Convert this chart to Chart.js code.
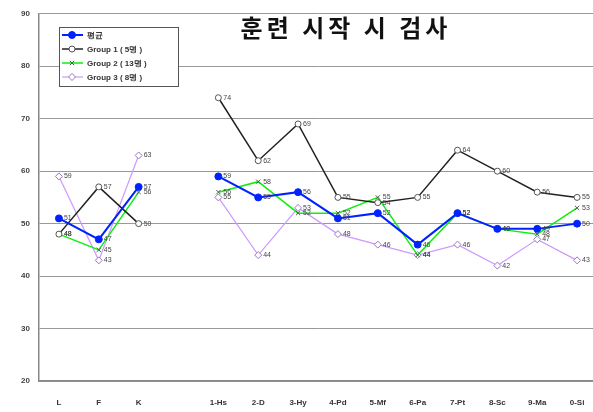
<!DOCTYPE html>
<html>
<head>
<meta charset="utf-8">
<script src="https://cdn.jsdelivr.net/npm/chart.js@4"></script>
<style>
  html, body { margin: 0; padding: 0; background: #fff; }
  #wrap { width: 593px; height: 412px; overflow: hidden; position: relative; }
  #box { width: 602px; height: 412px; position: absolute; left: 0; top: 0; }
</style>
</head>
<body>
<div id="wrap"><div id="box"><canvas id="chart"></canvas></div></div>
<script>
'use strict';

var TITLE      = '훈련 시작 시 검사';
var CATEGORIES = ['L', 'F', 'K', '', '1-Hs', '2-D', '3-Hy', '4-Pd', '5-Mf', '6-Pa', '7-Pt', '8-Sc', '9-Ma', '0-Si'];
var AVG        = [51, 47, 57, null, 59, 55, 56, 51, 52, 46, 52, 49, 49, 50];
var GROUP1     = [48, 57, 50, null, 74, 62, 69, 55, 54, 55, 64, 60, 56, 55];
var GROUP2     = [48, 45, 56, null, 56, 58, 52, 52, 55, 44, 52, 49, 48, 53];
var GROUP3     = [59, 43, 63, null, 55, 44, 53, 48, 46, 44, 46, 42, 47, 43];
var SERIES_NAMES = ['평균', 'Group 1 ( 5명 )', 'Group 2 ( 13명 )', 'Group 3 ( 8명 )'];

var FONT = '"Liberation Sans", Arial, sans-serif';

// value labels next to each point
var valueLabels = {
  id: 'valueLabels',
  afterDatasetsDraw: function(chart) {
    var ctx = chart.ctx;
    ctx.save();
    ctx.font = '7px ' + FONT;
    ctx.fillStyle = '#444';
    ctx.textBaseline = 'middle';
    chart.data.datasets.forEach(function(ds, i) {
      var meta = chart.getDatasetMeta(i);
      meta.data.forEach(function(pt, j) {
        if (ds.data[j] == null) return;
        ctx.fillText(String(ds.data[j]), pt.x + 5, pt.y);
      });
    });
    ctx.restore();
  }
};

// title and legend box drawn inside the plot
var overlay = {
  id: 'overlay',
  afterDraw: function(chart) {
    var ctx = chart.ctx;
    ctx.save();
    ctx.font = 'bold 24px "Noto Sans CJK KR", sans-serif';
    ctx.letterSpacing = '4px';
    ctx.fillStyle = '#111';
    ctx.textAlign = 'center';
    ctx.textBaseline = 'middle';
    ctx.fillText(TITLE, 346, 28);
    ctx.letterSpacing = '0px';

    var bx = 59, by = 27, bw = 119, bh = 59;
    ctx.fillStyle = '#fff';
    ctx.fillRect(bx, by, bw, bh);
    ctx.strokeStyle = '#555';
    ctx.lineWidth = 1;
    ctx.strokeRect(bx + 0.5, by + 0.5, bw, bh);

    ctx.textAlign = 'left';
    ctx.font = 'bold 8px ' + FONT;
    chart.data.datasets.forEach(function(ds, i) {
      var y = by + 8 + i * 14;
      ctx.strokeStyle = ds.borderColor;
      ctx.lineWidth = ds.borderWidth;
      ctx.beginPath();
      ctx.moveTo(bx + 3, y);
      ctx.lineTo(bx + 24, y);
      ctx.stroke();
      ctx.fillStyle = ds.pointBackgroundColor;
      ctx.strokeStyle = ds.pointBorderColor;
      ctx.lineWidth = 1;
      Chart.helpers.drawPoint(ctx, { pointStyle: ds.pointStyle, radius: ds.pointRadius, borderWidth: 1 }, bx + 13, y);
      ctx.fillStyle = '#333';
      ctx.fillText(ds.label, bx + 28, y + 1);
    });
    ctx.restore();
  }
};

var ctx = document.getElementById('chart').getContext('2d');

new Chart(ctx, {
  type: 'line',
  data: {
    labels: CATEGORIES,
    datasets: [
      {
        label: SERIES_NAMES[0], data: AVG,
        borderColor: '#0022ff', borderWidth: 2,
        pointStyle: 'circle', pointRadius: 3.5,
        pointBackgroundColor: '#0022ff', pointBorderColor: '#0022ff'
      },
      {
        label: SERIES_NAMES[1], data: GROUP1,
        borderColor: '#222', borderWidth: 1.5,
        pointStyle: 'circle', pointRadius: 3,
        pointBackgroundColor: '#fff', pointBorderColor: '#555'
      },
      {
        label: SERIES_NAMES[2], data: GROUP2,
        borderColor: '#11ee11', borderWidth: 1.5,
        pointStyle: 'crossRot', pointRadius: 3,
        pointBackgroundColor: '#446644', pointBorderColor: '#446644'
      },
      {
        label: SERIES_NAMES[3], data: GROUP3,
        borderColor: '#cc99ff', borderWidth: 1.2,
        pointStyle: 'rectRot', pointRadius: 3.5,
        pointBackgroundColor: '#fff', pointBorderColor: '#9977bb'
      }
    ]
  },
  options: {
    responsive: true,
    maintainAspectRatio: false,
    animation: false,
    spanGaps: false,
    layout: { padding: { top: 10, right: 1, left: 0, bottom: 0 } },
    elements: { line: { tension: 0 }, point: { pointBorderWidth: 1 } },
    plugins: {
      legend: { display: false },
      tooltip: { enabled: false }
    },
    scales: {
      x: {
        offset: true,
        grid: { display: false, offset: true },
        border: { color: '#888', width: 1.5 },
        ticks: { color: '#333', font: { family: FONT, size: 8, weight: 'bold' }, padding: 9, maxRotation: 0, autoSkip: false },
        afterFit: function(scale) { scale.height = 31; }
      },
      y: {
        min: 20, max: 90,
        ticks: { stepSize: 10, color: '#444', font: { family: FONT, size: 8, weight: 'bold' }, padding: 9 },
        grid: { color: '#999', lineWidth: 1, drawTicks: false },
        border: { color: '#888', width: 1.5 },
        afterFit: function(scale) { scale.width = 39; }
      }
    }
  },
  plugins: [valueLabels, overlay]
});
</script>
</body>
</html>
